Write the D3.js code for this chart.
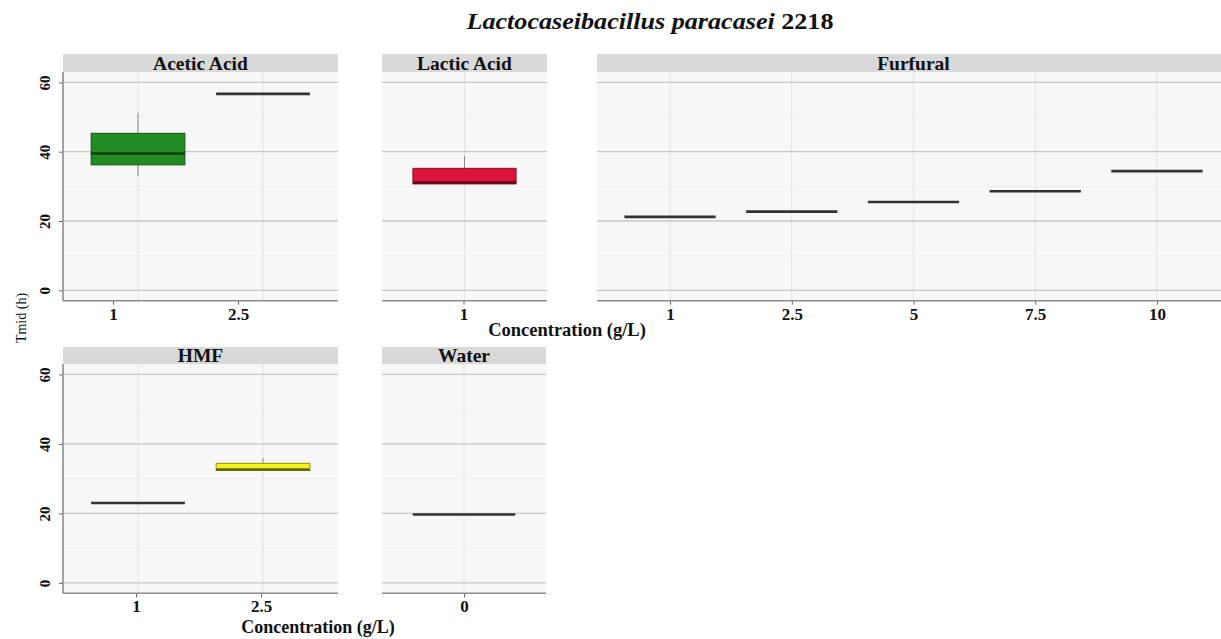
<!DOCTYPE html>
<html>
<head>
<meta charset="utf-8">
<script src="https://cdn.jsdelivr.net/npm/d3@7"></script>
<style>
  html, body { margin: 0; padding: 0; background: #ffffff; }
  svg { display: block; font-family: "Liberation Serif", "Times New Roman", serif; }
</style>
</head>
<body>
<svg id="chart" width="1221" height="639"></svg>
<script>
// Tmid (h) per compound and concentration, as box statistics:
// [lower whisker, Q1, median, Q3, upper whisker]
const facetNames = ["Acetic Acid", "Lactic Acid", "Furfural", "HMF", "Water"];

const aceticConc = ["1", "2.5"];
const aceticStats = [
  [33.0, 36.2, 39.5, 45.3, 51.1],
  [56.7, 56.7, 56.7, 56.7, 56.7]
];

const lacticConc = ["1"];
const lacticStats = [
  [30.7, 30.7, 31.1, 35.2, 38.8]
];

const furfuralConc = ["1", "2.5", "5", "7.5", "10"];
const furfuralStats = [
  [21.2, 21.2, 21.2, 21.2, 21.2],
  [22.7, 22.7, 22.7, 22.7, 22.7],
  [25.5, 25.5, 25.5, 25.5, 25.5],
  [28.6, 28.6, 28.6, 28.6, 28.6],
  [34.4, 34.4, 34.4, 34.4, 34.4]
];

const hmfConc = ["1", "2.5"];
const hmfStats = [
  [23.0, 23.0, 23.0, 23.0, 23.0],
  [32.4, 32.4, 32.6, 34.4, 35.9]
];

const waterConc = ["0"];
const waterStats = [
  [19.7, 19.7, 19.7, 19.7, 19.7]
];

const facetFills = ["#228B22", "#DC143C", "#7f7f7f", "#F4F01C", "#7f7f7f"];
const yTicks = [0, 20, 40, 60];
const yMinor = [10, 30, 50];
const yDomain = [-3, 63];

// Facet layout (pixels)
const rows = [
  { stripTop: 54, top: 72, bottom: 300.7 },
  { stripTop: 347, top: 364, bottom: 593.3 }
];
const panels = [
  { conc: aceticConc,   stats: aceticStats,   row: 0, x0: 63,  x1: 338,  yAxis: true, tickShift: -25 },
  { conc: lacticConc,   stats: lacticStats,   row: 0, x0: 382, x1: 547,  yAxis: false, tickShift: -1 },
  { conc: furfuralConc, stats: furfuralStats, row: 0, x0: 597, x1: 1230, yAxis: false, tickShift: 0 },
  { conc: hmfConc,      stats: hmfStats,      row: 1, x0: 63,  x1: 338,  yAxis: true, tickShift: -2 },
  { conc: waterConc,    stats: waterStats,    row: 1, x0: 382, x1: 546,  yAxis: false, tickShift: 0 }
];

const svg = d3.select("#chart");
const FONT = '"Liberation Serif", "Times New Roman", serif';

panels.forEach((p, i) => {
  const r = rows[p.row];
  const g = svg.append("g").attr("class", "panel");
  const y = d3.scaleLinear().domain(yDomain).range([r.bottom, r.top]);
  const x = d3.scalePoint().domain(p.conc).range([p.x0, p.x1]).padding(0.6);
  const boxW = x.step() * 0.75;
  const fill = facetFills[i];

  // panel background
  g.append("rect")
    .attr("x", p.x0).attr("y", r.top)
    .attr("width", p.x1 - p.x0).attr("height", r.bottom - r.top)
    .attr("fill", "#f7f7f7");

  // minor horizontal grid
  g.selectAll("line.minor").data(yMinor).join("line")
    .attr("class", "minor")
    .attr("x1", p.x0).attr("x2", p.x1)
    .attr("y1", d => y(d)).attr("y2", d => y(d))
    .attr("stroke", "#efefef").attr("stroke-width", 1);

  // vertical grid
  g.selectAll("line.vgrid").data(p.conc).join("line")
    .attr("class", "vgrid")
    .attr("x1", d => x(d)).attr("x2", d => x(d))
    .attr("y1", r.top).attr("y2", r.bottom)
    .attr("stroke", "#e2e2e2").attr("stroke-width", 1);

  // major horizontal grid
  g.selectAll("line.hgrid").data(yTicks).join("line")
    .attr("class", "hgrid")
    .attr("x1", p.x0).attr("x2", p.x1)
    .attr("y1", d => y(d)).attr("y2", d => y(d))
    .attr("stroke", "#c8c8c8").attr("stroke-width", 1.3);

  // strip
  g.append("rect")
    .attr("x", p.x0).attr("y", r.stripTop)
    .attr("width", p.x1 - p.x0).attr("height", r.top - r.stripTop)
    .attr("fill", "#d9d9d9");
  g.append("text")
    .attr("x", (p.x0 + p.x1) / 2).attr("y", r.top - 2.5)
    .attr("text-anchor", "middle")
    .attr("font-family", FONT).attr("font-weight", "bold").attr("font-size", 19.5)
    .attr("fill", "#111")
    .text(facetNames[i]);

  // boxes
  const boxes = g.selectAll("g.box").data(p.conc.map((c, j) => ({ c, s: p.stats[j] }))).join("g").attr("class", "box");
  boxes.each(function (d) {
    const bg = d3.select(this);
    const cx = x(d.c);
    const [lo, q1, med, q3, hi] = d.s;
    const flat = q3 - q1 === 0;
    const edge = flat ? "#333333" : d3.color(fill).darker(1.4).formatHex();
    if (hi > q3) {
      bg.append("line").attr("x1", cx).attr("x2", cx).attr("y1", y(q3)).attr("y2", y(hi))
        .attr("stroke", "#8a8a8a").attr("stroke-width", 1);
    }
    if (lo < q1) {
      bg.append("line").attr("x1", cx).attr("x2", cx).attr("y1", y(q1)).attr("y2", y(lo))
        .attr("stroke", "#8a8a8a").attr("stroke-width", 1);
    }
    if (!flat) {
      bg.append("rect")
        .attr("x", cx - boxW / 2).attr("y", y(q3))
        .attr("width", boxW).attr("height", y(q1) - y(q3))
        .attr("fill", fill).attr("stroke", edge).attr("stroke-width", 1);
    }
    bg.append("line")
      .attr("x1", cx - boxW / 2).attr("x2", cx + boxW / 2)
      .attr("y1", y(med)).attr("y2", y(med))
      .attr("stroke", flat ? "#333333" : d3.color(fill).darker(2.4).formatHex())
      .attr("stroke-width", 2.6);
  });

  // x axis
  const xa = g.append("g")
    .attr("transform", `translate(${p.tickShift},${r.bottom})`)
    .call(d3.axisBottom(x).tickSize(4).tickPadding(3));
  xa.select(".domain").remove();
  xa.selectAll(".tick line").attr("stroke", "#666");
  xa.selectAll(".tick text")
    .attr("font-family", FONT).attr("font-weight", "bold").attr("font-size", 17).attr("fill", "#111");
  g.append("line")
    .attr("x1", p.x0).attr("x2", p.x1).attr("y1", r.bottom).attr("y2", r.bottom)
    .attr("stroke", "#8c8c8c").attr("stroke-width", 1.6);

  // y axis
  if (p.yAxis) {
    const ya = g.append("g")
      .attr("transform", `translate(${p.x0},0)`)
      .call(d3.axisLeft(y).tickValues(yTicks).tickSize(4));
    ya.select(".domain").remove();
    ya.selectAll(".tick line").attr("stroke", "#666");
    ya.selectAll(".tick text")
      .attr("transform", "rotate(-90)")
      .attr("x", 0).attr("y", -13).attr("dy", 0)
      .attr("text-anchor", "middle")
      .attr("font-family", FONT).attr("font-weight", "bold").attr("font-size", 15).attr("fill", "#111");
    g.append("line")
      .attr("x1", p.x0).attr("x2", p.x0).attr("y1", r.top).attr("y2", r.bottom)
      .attr("stroke", "#8c8c8c").attr("stroke-width", 1.6);
  }
});

// title
const title = svg.append("text")
  .attr("x", 650).attr("y", 29)
  .attr("text-anchor", "middle")
  .attr("font-family", FONT).attr("font-weight", "bold").attr("font-size", 23)
  .attr("fill", "#111")
  .attr("textLength", 367).attr("lengthAdjust", "spacingAndGlyphs");
title.append("tspan").attr("font-style", "italic").text("Lactocaseibacillus paracasei");
title.append("tspan").text(" 2218");

// axis titles
svg.append("text")
  .attr("x", 567).attr("y", 336).attr("text-anchor", "middle")
  .attr("font-family", FONT).attr("font-weight", "bold").attr("font-size", 18.5).attr("fill", "#111")
  .text("Concentration (g/L)");
svg.append("text")
  .attr("x", 318).attr("y", 633).attr("text-anchor", "middle")
  .attr("font-family", FONT).attr("font-weight", "bold").attr("font-size", 18).attr("fill", "#111")
  .text("Concentration (g/L)");
svg.append("text")
  .attr("transform", "translate(26,318) rotate(-90)")
  .attr("text-anchor", "middle")
  .attr("font-family", FONT).attr("font-size", 14).attr("fill", "#111")
  .text("Tmid (h)");
</script>
</body>
</html>
